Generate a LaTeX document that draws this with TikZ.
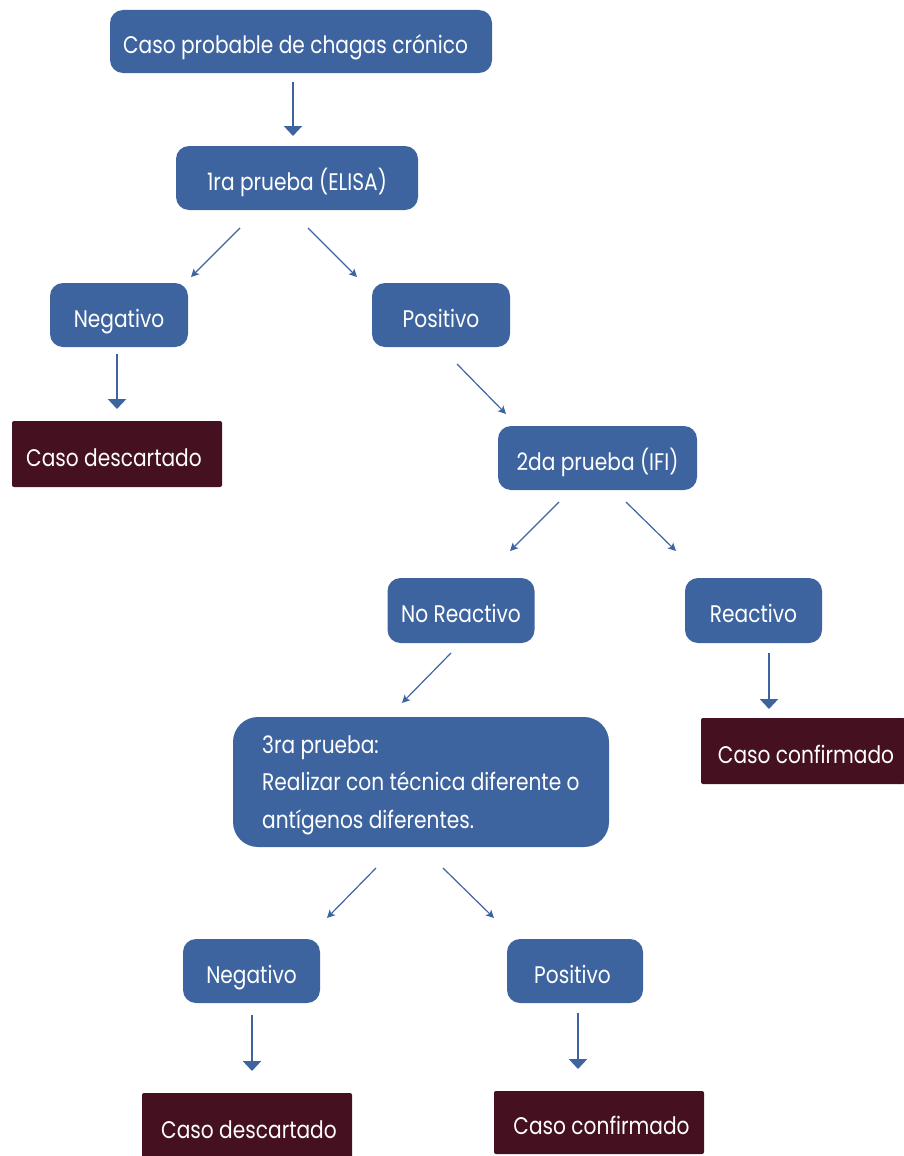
\documentclass[tikz,border=0pt]{standalone}
\usepackage{fontspec}
\setmainfont{Poppins}[FakeStretch=0.84]
\usetikzlibrary{arrows.meta}
\definecolor{boxblue}{HTML}{3E64A0}
\definecolor{boxdark}{HTML}{45101F}
\tikzset{
  boxfont/.style={font=\fontsize{24}{28}\selectfont},
  bluebox/.style={fill=boxblue, text=white, rounded corners=13pt, inner sep=0pt, boxfont, text height=26pt, text depth=1.2pt},
  darkbox/.style={fill=boxdark, text=white, rounded corners=2pt, inner sep=0pt, boxfont, text height=26pt, text depth=1.2pt},
  thickarrow/.style={draw=boxblue, line width=2.5pt, -{Triangle[width=18pt,length=10pt]}},
  thinarrow/.style={draw=boxblue, line width=1.2pt, -{Stealth[width=8pt,length=8pt,inset=2pt]}},
}
\begin{document}
\begin{tikzpicture}[x=1pt,y=-1pt]
\useasboundingbox (0,0) rectangle (904,1156);
% boxes
\node[bluebox, minimum width=382pt, minimum height=63pt] (top) at (301,41.5) {\hspace*{-11pt}Caso probable de chagas crónico};
\node[bluebox, minimum width=242pt, minimum height=64pt] (elisa) at (297,178) {1ra prueba (ELISA)};
\node[bluebox, minimum width=138pt, minimum height=64pt] (neg1) at (119,315) {Negativo};
\node[bluebox, minimum width=138pt, minimum height=64pt] (pos1) at (441,315) {Positivo};
\node[darkbox, minimum width=210pt, minimum height=66pt] (desc1) at (117,454) {\hspace*{-6pt}Caso descartado};
\node[bluebox, minimum width=199pt, minimum height=64pt] (ifi) at (597.5,458) {2da prueba (IFI)};
\node[bluebox, minimum width=147pt, minimum height=65pt] (noreac) at (461,610.5) {No Reactivo};
\node[bluebox, minimum width=137pt, minimum height=65pt] (reac) at (753.5,610.5) {Reactivo};
\node[darkbox, minimum width=204pt, minimum height=66pt] (conf1) at (803,751) {\hspace*{6pt}Caso confirmado};
\node[bluebox, rounded corners=25pt, minimum width=376pt, minimum height=130pt] (tercera) at (421,782) {};
\node[anchor=base west, inner sep=0pt, text=white, align=left, font=\fontsize{24}{37.5}\selectfont] (terceratxt) at (262,828) {3ra prueba:\\Realizar con técnica diferente o\\antígenos diferentes.};
\node[bluebox, minimum width=137pt, minimum height=64pt] (neg2) at (251.5,971) {Negativo};
\node[bluebox, minimum width=136pt, minimum height=64pt] (pos2) at (575,971) {\hspace*{-5pt}Positivo};
\node[darkbox, minimum width=210pt, minimum height=66pt] (desc2) at (247,1126) {\hspace*{4pt}Caso descartado};
\node[darkbox, minimum width=210pt, minimum height=63pt] (conf2) at (599,1122.5) {\hspace*{5pt}Caso confirmado};
% connector end points
\coordinate (a1s) at (293,82);  \coordinate (a1e) at (293,136);
\coordinate (a2s) at (240,228); \coordinate (a2e) at (191,277);
\coordinate (a3s) at (308,228); \coordinate (a3e) at (357,277);
\coordinate (a4s) at (117,354); \coordinate (a4e) at (117,409);
\coordinate (a5s) at (457,364); \coordinate (a5e) at (506,414);
\coordinate (a6s) at (559,502); \coordinate (a6e) at (510,551);
\coordinate (a7s) at (626,502); \coordinate (a7e) at (676,551);
\coordinate (a8s) at (451,653); \coordinate (a8e) at (402,703);
\coordinate (a9s) at (769,653); \coordinate (a9e) at (769,709);
\coordinate (a10s) at (376,868); \coordinate (a10e) at (327,918);
\coordinate (a11s) at (443,868); \coordinate (a11e) at (494,918);
\coordinate (a12s) at (252,1015); \coordinate (a12e) at (252,1071);
\coordinate (a13s) at (578,1013); \coordinate (a13e) at (578,1069);
% connectors
\draw[thickarrow] (a1s) -- (a1e);
\draw[thinarrow] (a2s) -- (a2e);
\draw[thinarrow] (a3s) -- (a3e);
\draw[thickarrow] (a4s) -- (a4e);
\draw[thinarrow] (a5s) -- (a5e);
\draw[thinarrow] (a6s) -- (a6e);
\draw[thinarrow] (a7s) -- (a7e);
\draw[thinarrow] (a8s) -- (a8e);
\draw[thickarrow] (a9s) -- (a9e);
\draw[thinarrow] (a10s) -- (a10e);
\draw[thinarrow] (a11s) -- (a11e);
\draw[thickarrow] (a12s) -- (a12e);
\draw[thickarrow] (a13s) -- (a13e);
\end{tikzpicture}
\end{document}
